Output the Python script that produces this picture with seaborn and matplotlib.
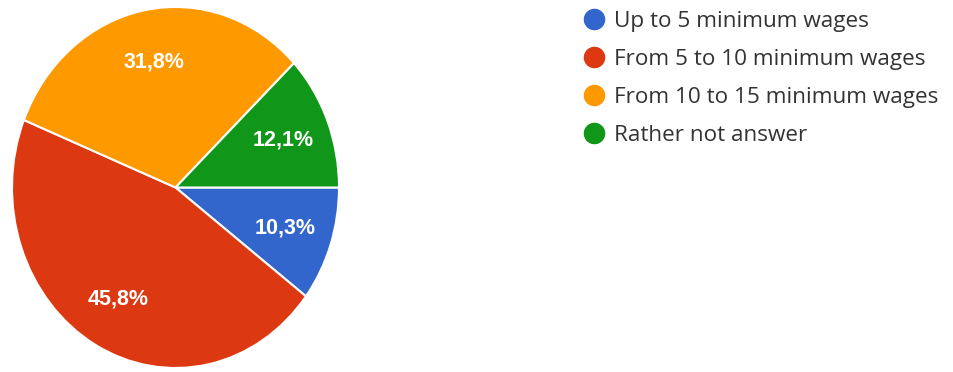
import matplotlib
matplotlib.use("Agg")
import matplotlib.pyplot as plt
from matplotlib.lines import Line2D
import seaborn as sns

# Income brackets and their share of respondents (%)
categories = [
    "Up to 5 minimum wages",
    "From 5 to 10 minimum wages",
    "From 10 to 15 minimum wages",
    "Rather not answer",
]
shares = [10.3, 45.8, 31.8, 12.1]
colors = ["#3366cc", "#dc3912", "#ff9900", "#109618"]

sns.set_theme(style="white")
plt.rcParams["font.family"] = ["Open Sans", "DejaVu Sans"]

W, H, DPI = 954, 372, 100
fig = plt.figure(figsize=(W / DPI, H / DPI), dpi=DPI)
fig.patch.set_facecolor("white")

# Pie occupies a slightly tall box, so it renders as an ellipse
left, right, top, bottom = 12, 339, 7, 368
ax = fig.add_axes([left / W, 1 - bottom / H, (right - left) / W, (bottom - top) / H])

wedges, texts, autotexts = ax.pie(
    shares,
    colors=colors,
    startangle=0,
    counterclock=False,
    autopct=lambda p: f"{p:.1f}%".replace(".", ","),
    pctdistance=0.71,
    wedgeprops=dict(edgecolor="white", linewidth=1.5),
    textprops=dict(color="white", fontsize=15.5, fontweight="bold",
                   family=["Liberation Sans", "DejaVu Sans"]),
)
ax.set_aspect("auto")
ax.set_xlim(-1.0, 1.0)
ax.set_ylim(-1.0, 1.0)
ax.axis("off")

handles = [
    Line2D([0], [0], marker="o", linestyle="none", markersize=14.5,
           markerfacecolor=c, markeredgecolor=c)
    for c in colors
]
leg = fig.legend(
    handles,
    categories,
    loc="upper left",
    bbox_to_anchor=(584 / W, 1 - 11 / H),
    frameon=False,
    fontsize=16.2,
    handlelength=0.85,
    handletextpad=0.5,
    labelspacing=0.76,
    borderpad=0.0,
    borderaxespad=0.0,
)
for t in leg.get_texts():
    t.set_color("#333333")

fig.savefig("out.png", dpi=DPI, facecolor="white")
